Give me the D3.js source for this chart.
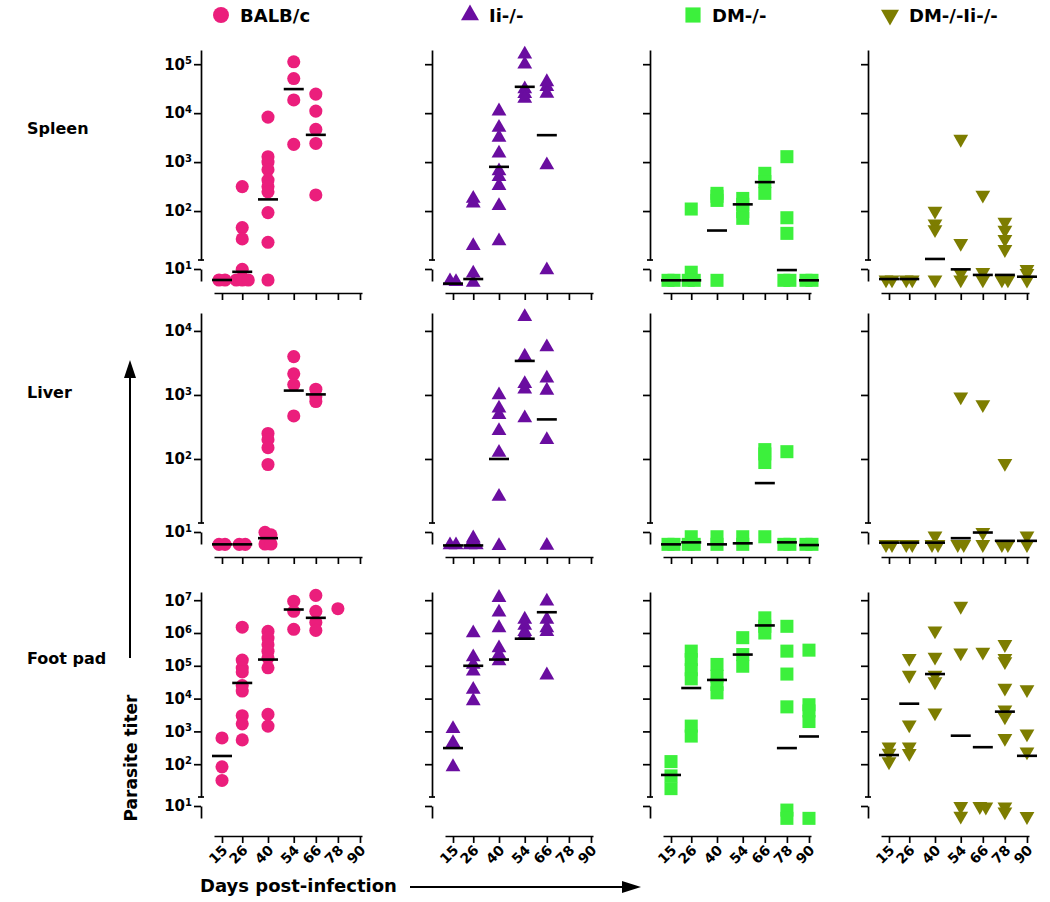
<!DOCTYPE html>
<html><head><meta charset="utf-8">
<script src="https://cdn.jsdelivr.net/npm/d3@7"></script>
<style>
body{margin:0;background:#fff;}
svg{display:block;}
text{font-family:"DejaVu Sans",sans-serif;font-weight:bold;fill:#000;}
</style>
</head><body>
<svg id="c" width="1050" height="902"></svg>
<script>
// ---------- data ----------
const days = [15, 26, 40, 54, 66, 78, 90];
const strains = ["BALB/c", "Ii-/-", "DM-/-", "DM-/-Ii-/-"];
const organs = ["Spleen", "Liver", "Foot pad"];
const organTickExps = [[2,3,4,5],[2,3,4],[2,3,4,5,6,7]];
const organTopExps = [5.29, 4.28, 7.25];
const lowerTickExp = 1;

// Spleen
const spleenBalb = [[15,5.3],[15,5.3],[26,316],[26,46],[26,27],[26,9.8],[26,5.3],[26,5.3],[26,5.3],
  [40,8300],[40,1290],[40,1000],[40,700],[40,430],[40,316],[40,247],[40,93],[40,23],[40,5.3],
  [54,112000],[54,51000],[54,18600],[54,2300],[66,24500],[66,11000],[66,4650],[66,2400],[66,213]];
const spleenBalbMed = [[15,5.3],[26,8.5],[40,173],[54,31000],[66,3600]];
const spleenIi = [[15,5],[15,4.8],[26,181],[26,145],[26,19.6],[26,7.8],[26,4.6],
  [40,11000],[40,5100],[40,3200],[40,1510],[40,660],[40,500],[40,330],[40,128],[40,24.5],
  [54,160000],[54,100000],[54,31000],[54,25000],[54,20000],[66,43500],[66,34500],[66,25300],[66,870],[66,9.4]];
const spleenIiMed = [[15,4.3],[26,5.6],[40,800],[54,34500],[66,3550]];
const spleenDm = [[15,5.2],[15,5.2],[26,110],[26,8.3],[26,5.2],[26,5.2],[40,230],[40,200],[40,165],[40,5.2],
  [54,181],[54,137],[54,97],[54,71],[66,590],[66,400],[66,230],[78,1290],[78,73],[78,35],[78,5.2],[78,5.2],
  [90,5.2],[90,5.2]];
const spleenDmMed = [[15,5.2],[26,5.2],[40,40],[54,137],[66,390],[78,9.4],[90,5.2]];
const spleenDmIi = [[15,5.4],[15,5.4],[26,5.4],[26,5.4],[40,100],[40,55],[40,42],[40,5.4],
  [54,2950],[54,22],[54,7.8],[54,5.4],[66,213],[66,8.3],[66,5.4],[78,60],[78,41],[78,26.5],[78,16.5],[78,5.4],[78,5.4],
  [90,9.8],[90,7.8],[90,5.3]];
const spleenDmIiMed = [[15,5.6],[26,5.6],[40,10.5],[54,9.8],[66,7.1],[78,7.1],[90,6.4]];

// Liver
const liverBalb = [[15,4.9],[15,4.9],[26,4.9],[26,4.9],[40,250],[40,200],[40,150],[40,82],[40,9.8],[40,8.5],[40,5],[40,5],
  [54,3970],[54,2140],[54,1450],[54,470],[66,1230],[66,940],[66,790]];
const liverBalbMed = [[15,4.9],[26,4.9],[40,7],[54,1170],[66,1020]];
const liverIi = [[15,4.7],[15,4.7],[26,7],[26,4.7],[26,4.7],[40,1000],[40,620],[40,490],[40,275],[40,126],[40,26],[40,4.5],
  [54,16600],[54,4000],[54,1500],[54,1230],[54,435],[66,5600],[66,1820],[66,1180],[66,200],[66,4.6]];
const liverIiMed = [[15,4.6],[26,4.6],[40,100],[54,3400],[66,415]];
const liverDm = [[15,4.9],[15,4.9],[26,7.6],[26,4.9],[26,4.9],[40,7.6],[40,4.9],[54,7.6],[54,4.9],
  [66,140],[66,120],[66,88],[66,7.6],[78,130],[78,4.9],[78,4.9],[90,4.9],[90,4.9]];
const liverDmMed = [[15,4.9],[26,5.5],[40,4.9],[54,5.2],[66,42],[78,5.5],[90,4.7]];
const liverDmIi = [[15,4.9],[15,4.9],[26,4.9],[26,4.9],[40,8],[40,4.9],[40,4.9],[54,940],[54,4.9],[54,4.9],
  [66,710],[66,9.8],[66,4.9],[78,86],[78,4.9],[78,4.9],[90,8],[90,4.9]];
const liverDmIiMed = [[15,5.4],[26,5.4],[40,5.4],[54,7],[66,9.7],[78,6],[90,6]];

// Foot pad
const footBalb = [[15,630],[15,83],[15,32],[26,1.5e6],[26,150000],[26,85000],[26,65000],[26,25000],[26,17000],[26,3000],[26,1700],[26,550],
  [40,1.12e6],[40,700000],[40,440000],[40,280000],[40,175000],[40,87000],[40,3300],[40,1450],
  [54,9.3e6],[54,4.6e6],[54,1.3e6],[66,1.4e7],[66,4.6e6],[66,2.1e6],[66,1.2e6],[78,5.5e6]];
const footBalbMed = [[15,178],[26,30000],[40,155000],[54,5.2e6],[66,2.9e6]];
const footIi = [[15,1200],[15,450],[15,83],[26,1e6],[26,185000],[26,110000],[26,68000],[26,19000],[26,8500],
  [40,1.2e7],[40,4.3e6],[40,1.43e6],[40,350000],[40,220000],[40,140000],
  [54,2.6e6],[54,1.7e6],[54,1.1e6],[54,890000],[66,9.3e6],[66,2.6e6],[66,1.43e6],[66,1.1e6],[66,52000]];
const footIiMed = [[15,310],[26,100000],[40,155000],[54,670000],[66,4.3e6]];
const footDm = [[15,120],[15,44],[15,18],[26,280000],[26,155000],[26,76000],[26,40000],[26,1450],[26,720],
  [40,110000],[40,48000],[40,27000],[40,15000],[54,720000],[54,220000],[54,97000],[66,2.9e6],[66,1.6e6],[66,1e6],
  [78,1.6e6],[78,280000],[78,56000],[78,5600],[78,7.9],[78,4.9],[90,300000],[90,6500],[90,4200],[90,2000],[90,4.9]];
const footDmMed = [[15,47],[26,21000],[40,37000],[54,220000],[66,1.7e6],[78,310],[90,700]];
const footDmIi = [[15,340],[15,220],[15,120],[26,170000],[26,52000],[26,1600],[26,340],[26,215],
  [40,1.17e6],[40,185000],[40,52000],[40,33000],[40,3700],[54,6.6e6],[54,250000],[54,9.8],[54,5.6],
  [66,265000],[66,9.8],[66,9.5],[78,450000],[78,170000],[78,135000],[78,21000],[78,4600],[78,2800],[78,620],[78,9.6],[78,7.2],
  [90,19000],[90,850],[90,240],[90,5.5]];
const footDmIiMed = [[15,190],[26,7000],[40,56000],[54,740],[66,330],[78,4000],[90,180]];

const points = [[spleenBalb, spleenIi, spleenDm, spleenDmIi],[liverBalb, liverIi, liverDm, liverDmIi],[footBalb, footIi, footDm, footDmIi]];
const medians = [[spleenBalbMed, spleenIiMed, spleenDmMed, spleenDmIiMed],[liverBalbMed, liverIiMed, liverDmMed, liverDmIiMed],[footBalbMed, footIiMed, footDmMed, footDmIiMed]];

// ---------- layout / style ----------
const svg = d3.select("#c");
const colX = [201, 432, 650, 868];
const rowGeo = [{top:50, brk:260}, {top:313, brk:523}, {top:592, brk:797}];
const xAxisY = [293, 557, 836];
const rowLabelY = [134, 398, 664];
const colors = ["#EB1E7C", "#6A0DA0", "#3CF03C", "#7D7D00"];
const symTypes = [d3.symbolCircle, d3.symbolTriangle, d3.symbolSquare, d3.symbolTriangle];
const symSize = [135, 95, 170, 95];
const symRot = [0, 0, 0, 180];
const FONT = '"DejaVu Sans", sans-serif';

function styleAxis(g){
  g.attr("font-family", FONT).attr("font-size", 15).attr("font-weight", "bold");
  g.selectAll("path.domain").attr("stroke", "#000").attr("stroke-width", 1.7);
  g.selectAll(".tick line").attr("stroke", "#000").attr("stroke-width", 1.7);
}
function supLabel(sel, labelled){
  sel.selectAll(".tick text").each(function(d){
    const t = d3.select(this);
    t.text("");
    if (!labelled) return;
    t.attr("x", -9).attr("fill", "#000");
    t.append("tspan").text("10");
    t.append("tspan").attr("dy", "-0.55em").attr("font-size", "10px").text(Math.round(Math.log10(d)));
  });
}

organs.forEach((org, r) => {
  const g = rowGeo[r];
  const yUp = d3.scaleLog().domain([10, Math.pow(10, organTopExps[r])]).range([g.brk, g.top]);
  const yLo = d3.scaleLog().domain([10, 5]).range([g.brk + 9, g.brk + 21]);
  const yv = v => v >= 10 ? yUp(v) : yLo(v);

  strains.forEach((s, c) => {
    const ax = colX[c];
    const x = d3.scaleLinear().domain([10.65, 91.1]).range([ax + 13, ax + 161]);
    const p = svg.append("g");

    // upper y axis
    const gu = p.append("g").attr("transform", `translate(${ax},0)`)
      .call(d3.axisLeft(yUp).tickValues(organTickExps[r].map(e => Math.pow(10, e))).tickSize(7).tickSizeOuter(0));
    styleAxis(gu); supLabel(gu, c === 0);
    gu.append("line").attr("x1", -3).attr("x2", 3).attr("y1", g.brk).attr("y2", g.brk)
      .attr("stroke", "#000").attr("stroke-width", 1.7);
    // lower y axis (below break)
    const gl = p.append("g").attr("transform", `translate(${ax},0)`)
      .call(d3.axisLeft(yLo).tickValues([Math.pow(10, lowerTickExp)]).tickSize(7).tickSizeOuter(0));
    styleAxis(gl); supLabel(gl, c === 0);

    // x axis
    const gx = p.append("g").attr("transform", `translate(0,${xAxisY[r]})`)
      .call(d3.axisBottom(x).tickValues(days).tickSize(7).tickSizeOuter(0));
    styleAxis(gx);
    gx.attr("font-size", 14);
    if (r === 2) {
      gx.selectAll(".tick text").attr("fill", "#000").attr("text-anchor", "end")
        .attr("y", 0).attr("dy", null).attr("transform", "translate(6,15) rotate(-45)");
    } else {
      gx.selectAll(".tick text").remove();
    }

    // points with spreading of coincident values
    const pts = points[r][c].map(([d, v]) => ({d, v, y: yv(v), dx: 0}));
    d3.group(pts, q => q.d).forEach(arr => {
      arr.sort((a, b) => a.y - b.y);
      const clusters = [];
      arr.forEach(q => {
        const last = clusters[clusters.length - 1];
        if (last && Math.abs(q.y - last[last.length - 1].y) < 2.5) last.push(q); else clusters.push([q]);
      });
      clusters.forEach(cl => cl.forEach((q, i) => q.dx = (i - (cl.length - 1) / 2) * 6));
    });
    const sym = d3.symbol().type(symTypes[c]).size(symSize[c]);
    p.append("g").selectAll("path").data(pts).join("path")
      .attr("d", sym)
      .attr("transform", q => `translate(${x(q.d) + q.dx},${q.y}) rotate(${symRot[c]})`)
      .attr("fill", colors[c]);

    // median lines
    p.append("g").selectAll("line").data(medians[r][c]).join("line")
      .attr("x1", m => x(m[0]) - 10).attr("x2", m => x(m[0]) + 10)
      .attr("y1", m => yv(m[1])).attr("y2", m => yv(m[1]))
      .attr("stroke", "#000").attr("stroke-width", 2.6);
  });

  // row label
  svg.append("text").attr("x", 27).attr("y", rowLabelY[r]).attr("font-size", 16).text(org);
});

// legend
const legX = [221, 470, 693, 890];
strains.forEach((s, c) => {
  const sz = [200, 140, 230, 140][c];
  svg.append("path").attr("d", d3.symbol().type(symTypes[c]).size(sz))
    .attr("transform", `translate(${legX[c]},15) rotate(${symRot[c]})`).attr("fill", colors[c]);
  svg.append("text").attr("x", legX[c] + 19).attr("y", 22).attr("font-size", 18).text(s);
});

// axis titles and arrows
svg.append("text").attr("transform", "translate(137,758) rotate(-90)").attr("text-anchor", "middle")
  .attr("font-size", 17).text("Parasite titer");
svg.append("line").attr("x1", 130).attr("x2", 130).attr("y1", 658).attr("y2", 376).attr("stroke", "#000").attr("stroke-width", 2);
svg.append("path").attr("d", "M130,360 L124,378 L136,378 Z").attr("fill", "#000");
svg.append("text").attr("x", 200).attr("y", 892).attr("font-size", 18).text("Days post-infection");
svg.append("line").attr("x1", 410).attr("x2", 624).attr("y1", 887).attr("y2", 887).attr("stroke", "#000").attr("stroke-width", 2);
svg.append("path").attr("d", "M641,887 L622,881 L622,893 Z").attr("fill", "#000");
</script>
</body></html>
